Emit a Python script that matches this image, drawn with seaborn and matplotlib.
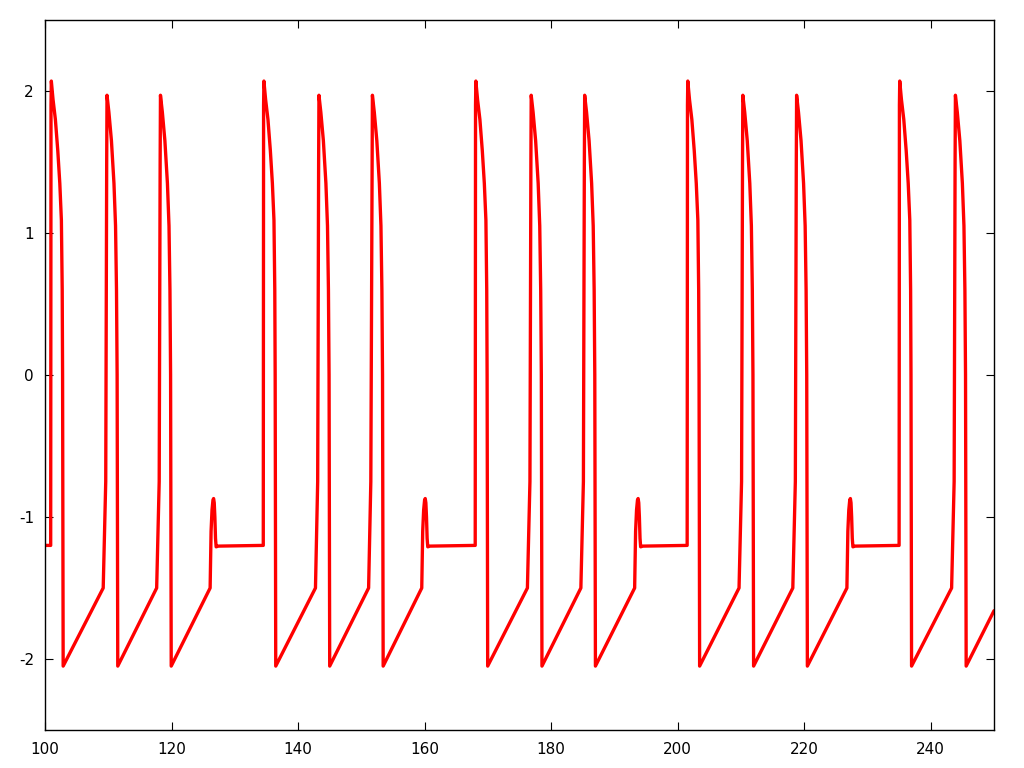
import matplotlib
matplotlib.use("Agg")
import matplotlib.pyplot as plt
import seaborn as sns
import pandas as pd

# ---- data (time, membrane value) ----
burst0_t = [100.0, 100.9, 100.95, 101.0, 101.27, 101.64, 102.02, 102.34, 102.59, 102.72, 102.78, 102.82, 102.87,
            109.2, 109.6, 109.75, 109.8, 110.1, 110.5, 110.9, 111.15, 111.3, 111.4, 111.45, 111.5,
            117.65, 118.05, 118.2, 118.25, 118.55, 118.95, 119.35, 119.6, 119.75, 119.85, 119.9, 119.95,
            126.1, 126.15, 126.25, 126.4, 126.55, 126.65, 126.75, 126.85, 126.95, 127.05, 127.4]
burst0_v = [-1.2, -1.2, 1.9, 2.07, 1.94, 1.8, 1.58, 1.35, 1.09, 0.6, 0.0, -1.0, -2.05,
            -1.5, -0.75, 1.5, 1.97, 1.85, 1.65, 1.35, 1.05, 0.6, 0.0, -1.0, -2.05,
            -1.5, -0.75, 1.5, 1.97, 1.85, 1.65, 1.35, 1.05, 0.6, 0.0, -1.0, -2.05,
            -1.5, -1.35, -1.1, -0.95, -0.88, -0.87, -0.9, -1.0, -1.15, -1.21, -1.205]

burst1_t = [134.5, 134.55, 134.6, 134.87, 135.24, 135.62, 135.94, 136.19, 136.32, 136.38, 136.42, 136.47,
            142.75, 143.1, 143.25, 143.3, 143.6, 144.0, 144.4, 144.65, 144.8, 144.9, 144.95, 145.0,
            151.15, 151.5, 151.7, 151.75, 152.05, 152.45, 152.85, 153.1, 153.25, 153.35, 153.4, 153.45,
            159.55, 159.6, 159.7, 159.85, 160.0, 160.1, 160.2, 160.3, 160.4, 160.5, 160.85]
burst1_v = [-1.2, 1.9, 2.07, 1.94, 1.8, 1.58, 1.35, 1.09, 0.6, 0.0, -1.0, -2.05,
            -1.5, -0.75, 1.5, 1.97, 1.85, 1.65, 1.35, 1.05, 0.6, 0.0, -1.0, -2.05,
            -1.5, -0.75, 1.5, 1.97, 1.85, 1.65, 1.35, 1.05, 0.6, 0.0, -1.0, -2.05,
            -1.5, -1.35, -1.1, -0.95, -0.88, -0.87, -0.9, -1.0, -1.15, -1.21, -1.205]

burst2_t = [168.0, 168.05, 168.1, 168.37, 168.74, 169.12, 169.44, 169.69, 169.82, 169.88, 169.92, 169.97,
            176.25, 176.65, 176.8, 176.85, 177.15, 177.55, 177.95, 178.2, 178.35, 178.45, 178.5, 178.55,
            184.7, 185.1, 185.25, 185.3, 185.6, 186.0, 186.4, 186.65, 186.8, 186.9, 186.95, 187.0,
            193.2, 193.25, 193.35, 193.5, 193.65, 193.75, 193.85, 193.95, 194.05, 194.15, 194.5]
burst2_v = [-1.2, 1.9, 2.07, 1.94, 1.8, 1.58, 1.35, 1.09, 0.6, 0.0, -1.0, -2.05,
            -1.5, -0.75, 1.5, 1.97, 1.85, 1.65, 1.35, 1.05, 0.6, 0.0, -1.0, -2.05,
            -1.5, -0.75, 1.5, 1.97, 1.85, 1.65, 1.35, 1.05, 0.6, 0.0, -1.0, -2.05,
            -1.5, -1.35, -1.1, -0.95, -0.88, -0.87, -0.9, -1.0, -1.15, -1.21, -1.205]

burst3_t = [201.5, 201.55, 201.6, 201.87, 202.24, 202.62, 202.94, 203.19, 203.32, 203.38, 203.42, 203.47,
            209.7, 210.1, 210.25, 210.3, 210.6, 211.0, 211.4, 211.65, 211.8, 211.9, 211.95, 212.0,
            218.2, 218.6, 218.75, 218.8, 219.1, 219.5, 219.9, 220.15, 220.3, 220.4, 220.45, 220.5,
            226.75, 226.8, 226.9, 227.05, 227.2, 227.3, 227.4, 227.5, 227.6, 227.7, 228.05]
burst3_v = [-1.2, 1.9, 2.07, 1.94, 1.8, 1.58, 1.35, 1.09, 0.6, 0.0, -1.0, -2.05,
            -1.5, -0.75, 1.5, 1.97, 1.85, 1.65, 1.35, 1.05, 0.6, 0.0, -1.0, -2.05,
            -1.5, -0.75, 1.5, 1.97, 1.85, 1.65, 1.35, 1.05, 0.6, 0.0, -1.0, -2.05,
            -1.5, -1.35, -1.1, -0.95, -0.88, -0.87, -0.9, -1.0, -1.15, -1.21, -1.205]

burst4_t = [235.0, 235.05, 235.1, 235.37, 235.74, 236.12, 236.44, 236.69, 236.82, 236.88, 236.92, 236.97,
            243.3, 243.7, 243.85, 243.9, 244.2, 244.6, 245.0, 245.25, 245.4, 245.5, 245.55, 245.6,
            250.0]
burst4_v = [-1.2, 1.9, 2.07, 1.94, 1.8, 1.58, 1.35, 1.09, 0.6, 0.0, -1.0, -2.05,
            -1.5, -0.75, 1.5, 1.97, 1.85, 1.65, 1.35, 1.05, 0.6, 0.0, -1.0, -2.05,
            -1.66]

x_ticks = [100, 120, 140, 160, 180, 200, 220, 240]
y_ticks = [-2, -1, 0, 1, 2]

# ---- assemble ----
t_all = burst0_t + burst1_t + burst2_t + burst3_t + burst4_t
v_all = burst0_v + burst1_v + burst2_v + burst3_v + burst4_v
df = pd.DataFrame({"t": t_all, "v": v_all})

sns.set_style("ticks")
plt.rcParams["font.family"] = ["DejaVu Sans"]
plt.rcParams["axes.unicode_minus"] = False

fig = plt.figure(figsize=(10.24, 7.68), dpi=100)
ax = fig.add_axes([45 / 1024, 1 - 730 / 768, (994 - 45) / 1024, (730 - 20) / 768])

sns.lineplot(data=df, x="t", y="v", sort=False, estimator=None,
             color="#ff0000", linewidth=2.4, ax=ax)
for ln in ax.get_lines():
    ln.set_solid_joinstyle("round")
    ln.set_solid_capstyle("round")

ax.set_xlim(100, 250)
ax.set_ylim(-2.5, 2.5)
ax.set_xticks(x_ticks)
ax.set_yticks(y_ticks)
ax.set_xticklabels([str(v) for v in x_ticks])
ax.set_yticklabels([str(v) for v in y_ticks])
ax.set_xlabel("")
ax.set_ylabel("")

for s in ax.spines.values():
    s.set_visible(True)
    s.set_color("black")
    s.set_linewidth(1.0)

ax.tick_params(axis="both", direction="in", length=6, width=0.8, color="black",
               labelsize=11, labelcolor="black",
               top=True, right=True, bottom=True, left=True)
ax.tick_params(axis="x", pad=9)
ax.tick_params(axis="y", pad=8)
ax.grid(False)
ax.set_facecolor("white")
fig.patch.set_facecolor("white")

fig.savefig("out.png", dpi=100, facecolor="white")
